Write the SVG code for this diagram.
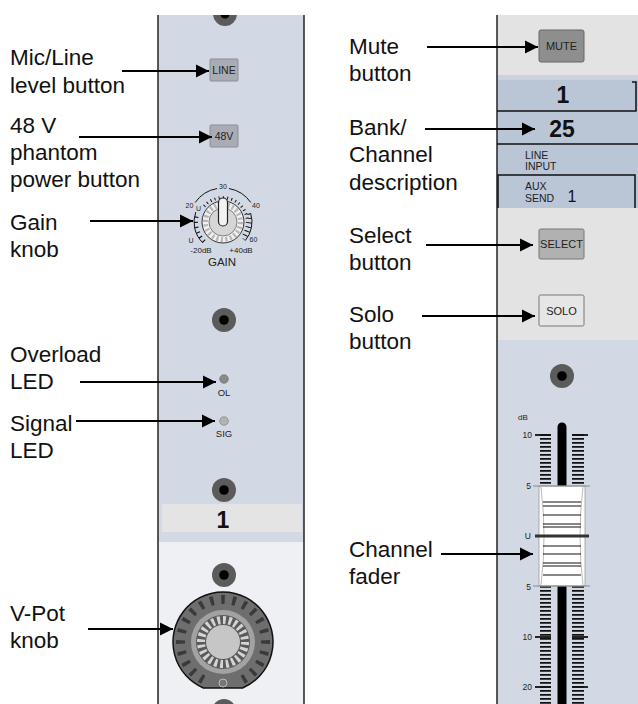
<svg xmlns="http://www.w3.org/2000/svg" width="638" height="704" viewBox="0 0 638 704">
<defs>
<marker id="ah" markerUnits="userSpaceOnUse" markerWidth="14" markerHeight="14" refX="13" refY="7" orient="auto"><path d="M0,0.5 L13,7 L0,13.5 z" fill="#000"/></marker>
<clipPath id="topclip"><rect x="150" y="15" width="160" height="700"/></clipPath>
<clipPath id="botclip"><rect x="150" y="0" width="160" height="704"/></clipPath>
</defs>
<style>
.lbl{font-family:"Liberation Sans",Arial,sans-serif;font-size:22.5px;fill:#111}
.sm{font-family:"Liberation Sans",Arial,sans-serif;font-size:10.5px;fill:#222}
.btxt{font-family:"Liberation Sans",Arial,sans-serif;font-size:11px;fill:#222;text-anchor:middle}
.tiny{font-family:"Liberation Sans",Arial,sans-serif;font-size:7px;fill:#222;text-anchor:middle}
.db{font-family:"Liberation Sans",Arial,sans-serif;font-size:8px;fill:#222;text-anchor:middle}
.gain{font-family:"Liberation Sans",Arial,sans-serif;font-size:11.5px;fill:#222;text-anchor:middle}
.led{font-family:"Liberation Sans",Arial,sans-serif;font-size:9.5px;fill:#222;text-anchor:middle}
.scale{font-family:"Liberation Sans",Arial,sans-serif;font-size:8.5px;fill:#222;text-anchor:end}
.big{font-family:"Liberation Sans",Arial,sans-serif;font-size:23px;font-weight:bold;fill:#111;text-anchor:middle}
.aux1{font-family:"Liberation Sans",Arial,sans-serif;font-size:16px;fill:#111;text-anchor:middle}
.mid{text-anchor:middle}
.arr{stroke:#000;stroke-width:2;fill:none;marker-end:url(#ah)}
.screw{fill:#5b5b5b}
.dot{fill:#000}
.edge{stroke:#222;stroke-width:1.5}
.tk{stroke:#111;fill:none}
</style>

<!-- backgrounds -->
<g id="left-strip">
<rect x="158" y="15" width="146" height="689" fill="#d3d9e4"/>
<rect x="158" y="542" width="146" height="162" fill="#eef0f4"/>
<line class="edge" x1="158" y1="15" x2="158" y2="704"/>
<line class="edge" x1="304" y1="15" x2="304" y2="704"/>
</g>
<g id="right-strip">
<rect x="497" y="15" width="141" height="60" fill="#e3e3e3"/>
<rect x="497" y="75" width="141" height="5" fill="#cad2df"/>
<rect x="497" y="80" width="141" height="128" fill="#bac5d6"/>
<rect x="497" y="208" width="141" height="132" fill="#e3e3e3"/>
<rect x="497" y="340" width="141" height="364" fill="#d3d9e4"/>
<line class="edge" x1="497" y1="15" x2="497" y2="704"/>
</g>

<!-- screws -->
<g id="screws">
<g clip-path="url(#topclip)"><circle class="screw" cx="225" cy="14" r="12"/><circle class="dot" cx="225" cy="14" r="4.5"/></g>
<circle class="screw" cx="224" cy="320" r="12"/><circle class="dot" cx="224" cy="320" r="4.8"/>
<circle class="screw" cx="224" cy="490" r="12"/><circle class="dot" cx="224" cy="490" r="4.8"/>
<circle class="screw" cx="224" cy="575" r="12"/><circle class="dot" cx="224" cy="575" r="4.8"/>
<g clip-path="url(#botclip)"><circle class="screw" cx="224" cy="711" r="12"/></g>
<circle class="screw" cx="562" cy="376" r="12"/><circle class="dot" cx="562" cy="376" r="4.8"/>
</g>

<g id="line-button">
<rect x="210" y="59" width="28" height="22" rx="1" fill="#a9acb5" stroke="#8a8d96"/>
<text class="sm mid" x="224" y="74">LINE</text>
</g>
<g id="phantom-button">
<rect x="210" y="125" width="28" height="22" rx="1" fill="#a9acb5" stroke="#8a8d96"/>
<text class="sm mid" x="224" y="140">48V</text>
</g>

<g id="gain-knob">
<path class="tk" stroke-width="1" d="M195.15,202.5 A34,34 0 0 1 217.1,188.52 M228.9,188.52 A34,34 0 0 1 250.85,202.5"/>
<path class="tk" stroke-width="1" d="M202.85,242.86 A29,29 0 0 1 195.75,212.08 M250.58,213.04 A29,29 0 0 1 245.21,240.64"/>
<path class="tk" stroke-width="4" pathLength="66" stroke-dasharray="2.5 8.5" d="M204.24,241.42 A27,27 0 0 1 197.63,212.77"/>
<path class="tk" stroke-width="3" pathLength="58" stroke-dasharray="2 7.5" d="M248.68,213.66 A27,27 0 0 1 243.68,239.36"/>
<path class="tk" stroke-width="3" pathLength="180" stroke-dasharray="2.3 7.7" d="M204.23,206.25 A24.5,24.5 0 0 1 241.9,237.58"/>
<circle cx="223" cy="222" r="21" fill="#f2f2f2" stroke="#333" stroke-width="1"/>
<circle cx="223" cy="222" r="17.5" fill="none" stroke="#b8b8b8" stroke-width="5" pathLength="96" stroke-dasharray="2 2"/>
<circle cx="223" cy="222" r="14" fill="#d6d6d6" stroke="#666" stroke-width="0.8"/>
<rect x="218.5" y="198" width="9" height="28" rx="4.5" fill="#f2f2f2" stroke="#222" stroke-width="1.2"/>
<text class="tiny" x="223" y="189">30</text>
<text class="tiny" x="189.5" y="207.7">20</text>
<text class="tiny" x="256" y="207.7">40</text>
<text class="tiny" x="198.5" y="211">U</text>
<text class="tiny" x="191" y="242.7">U</text>
<text class="tiny" x="253.5" y="241.7">60</text>
<text class="db" x="201" y="253">-20dB</text>
<text class="db" x="241" y="253">+40dB</text>
<text class="gain" x="222" y="266">GAIN</text>
</g>

<g id="overload-led">
<circle cx="224" cy="379" r="4.3" fill="#8a8a8a" stroke="#666" stroke-width="0.6"/>
<text class="led" x="224" y="396">OL</text>
</g>
<g id="signal-led">
<circle cx="224" cy="421" r="4.3" fill="#b3b3b3" stroke="#777" stroke-width="0.6"/>
<text class="led" x="224" y="437">SIG</text>
</g>

<g id="channel-number">
<rect x="162" y="504" width="140" height="28" fill="#e4e4e4"/>
<text class="big" x="223" y="528">1</text>
</g>

<g id="vpot-knob">
<path d="M203.4,688 A50,50 0 1 1 242.6,688 Z" fill="#6e6e6e" stroke="#111" stroke-width="1.5"/>
<path d="M203.28,679.65 A42.5,42.5 0 1 1 242.72,679.65" fill="none" stroke="#3a3a3a" stroke-width="9" pathLength="304.7" stroke-dasharray="4.7 10.3"/>
<circle cx="223" cy="642" r="32" fill="#a2a2a2"/>
<circle cx="223" cy="642" r="27" fill="#5a5a5a"/>
<circle cx="223" cy="642" r="22" fill="none" stroke="#d4d4d4" stroke-width="8" pathLength="96" stroke-dasharray="2 2"/>
<circle cx="223" cy="642" r="17" fill="#c6c6c6"/>
<circle cx="223" cy="683" r="4" fill="#777" stroke="#bbb" stroke-width="1"/>
</g>

<g id="mute-button">
<rect x="539" y="30" width="45" height="32" rx="2" fill="#8e8e8e" stroke="#666"/>
<text class="btxt" x="561.5" y="50">MUTE</text>
</g>

<g id="bank-channel-display">
<path d="M632,82 H636 V111 H497" fill="none" stroke="#111" stroke-width="1.5"/>
<text class="big" x="563" y="103">1</text>
<text class="big" x="562" y="137">25</text>
<line x1="497" y1="144" x2="638" y2="144" stroke="#111" stroke-width="1.5"/>
<text class="sm" x="525" y="159">LINE</text>
<text class="sm" x="525" y="170">INPUT</text>
<path d="M498,208 V175 H635 V208" fill="none" stroke="#111" stroke-width="1.5"/>
<text class="sm" x="525" y="190">AUX</text>
<text class="sm" x="525" y="201.5">SEND</text>
<text class="aux1" x="572" y="202">1</text>
</g>

<g id="select-button">
<rect x="539" y="229" width="45" height="30" rx="1.5" fill="#b1b1b1" stroke="#777"/>
<text class="btxt" x="561.5" y="248">SELECT</text>
</g>
<g id="solo-button">
<rect x="539" y="295" width="45" height="31" rx="1.5" fill="#e6e6e6" stroke="#777"/>
<text class="btxt" x="561.5" y="315">SOLO</text>
</g>

<g id="channel-fader">
<text class="db" x="523" y="420">dB</text>
<line x1="545.5" y1="434" x2="545.5" y2="704" stroke="#111" stroke-width="11" stroke-dasharray="1.8 2.2"/>
<line x1="578" y1="434" x2="578" y2="704" stroke="#111" stroke-width="12" stroke-dasharray="1.8 2.2"/>
<g stroke="#111" stroke-width="1.8">
<line x1="535" y1="435" x2="551" y2="435"/><line x1="572" y1="435" x2="588" y2="435"/>
<line x1="535" y1="637" x2="551" y2="637"/><line x1="572" y1="637" x2="588" y2="637"/>
<line x1="535" y1="687" x2="551" y2="687"/><line x1="572" y1="687" x2="588" y2="687"/>
</g>
<text class="scale" x="532" y="438">10</text>
<text class="scale" x="531" y="489">5</text>
<text class="scale" x="531" y="539">U</text>
<text class="scale" x="531" y="590">5</text>
<text class="scale" x="532" y="640">10</text>
<text class="scale" x="532" y="690">20</text>
<line x1="562" y1="427" x2="562" y2="704" stroke="#000" stroke-width="9" stroke-linecap="round"/>
<rect x="539" y="486" width="46" height="100" fill="#fff" stroke="#999" stroke-width="0.8"/>
<path d="M541,487 Q547,536 541,585 M583,487 Q577,536 583,585" fill="none" stroke="#aaa" stroke-width="0.8"/>
<line x1="533" y1="486" x2="590" y2="486" stroke="#888" stroke-width="1"/>
<line x1="533" y1="586" x2="590" y2="586" stroke="#888" stroke-width="1"/>
<g stroke="#111" stroke-width="1">
<line x1="543" y1="502" x2="581" y2="502"/><line x1="543" y1="506" x2="581" y2="506"/>
<line x1="543" y1="515" x2="581" y2="515"/><line x1="543" y1="524" x2="581" y2="524"/>
<line x1="543" y1="527" x2="581" y2="527"/><line x1="543" y1="546" x2="581" y2="546"/>
<line x1="543" y1="554" x2="581" y2="554"/><line x1="543" y1="563" x2="581" y2="563"/>
<line x1="543" y1="566" x2="581" y2="566"/><line x1="543" y1="575" x2="581" y2="575"/>
</g>
<line x1="535" y1="536" x2="589" y2="536" stroke="#333" stroke-width="3"/>
</g>

<g id="labels">
<text class="lbl" x="10" y="65">Mic/Line</text>
<text class="lbl" x="10" y="92.5">level button</text>
<text class="lbl" x="10" y="133">48 V</text>
<text class="lbl" x="10" y="160">phantom</text>
<text class="lbl" x="10" y="187">power button</text>
<text class="lbl" x="10" y="230">Gain</text>
<text class="lbl" x="10" y="257">knob</text>
<text class="lbl" x="10" y="362">Overload</text>
<text class="lbl" x="10" y="389">LED</text>
<text class="lbl" x="10" y="431">Signal</text>
<text class="lbl" x="10" y="458">LED</text>
<text class="lbl" x="10" y="621">V-Pot</text>
<text class="lbl" x="10" y="648">knob</text>
<text class="lbl" x="349" y="54">Mute</text>
<text class="lbl" x="349" y="81">button</text>
<text class="lbl" x="349" y="135">Bank/</text>
<text class="lbl" x="349" y="162">Channel</text>
<text class="lbl" x="349" y="190">description</text>
<text class="lbl" x="349" y="243">Select</text>
<text class="lbl" x="349" y="270">button</text>
<text class="lbl" x="349" y="322">Solo</text>
<text class="lbl" x="349" y="349">button</text>
<text class="lbl" x="349" y="557">Channel</text>
<text class="lbl" x="349" y="584">fader</text>
</g>

<g id="connectors">
<line class="arr" x1="122" y1="71" x2="209" y2="71"/>
<line class="arr" x1="79" y1="137" x2="212" y2="137"/>
<line class="arr" x1="90" y1="221" x2="193" y2="221"/>
<line class="arr" x1="80" y1="382" x2="216" y2="382"/>
<line class="arr" x1="76" y1="421" x2="215" y2="421"/>
<line class="arr" x1="88" y1="629" x2="173" y2="629"/>
<line class="arr" x1="427" y1="47" x2="538" y2="47"/>
<line class="arr" x1="425" y1="129" x2="535" y2="129"/>
<line class="arr" x1="426" y1="245" x2="533" y2="245"/>
<line class="arr" x1="422" y1="316" x2="535" y2="316"/>
<line class="arr" x1="441" y1="554" x2="533" y2="554"/>
</g>
</svg>
